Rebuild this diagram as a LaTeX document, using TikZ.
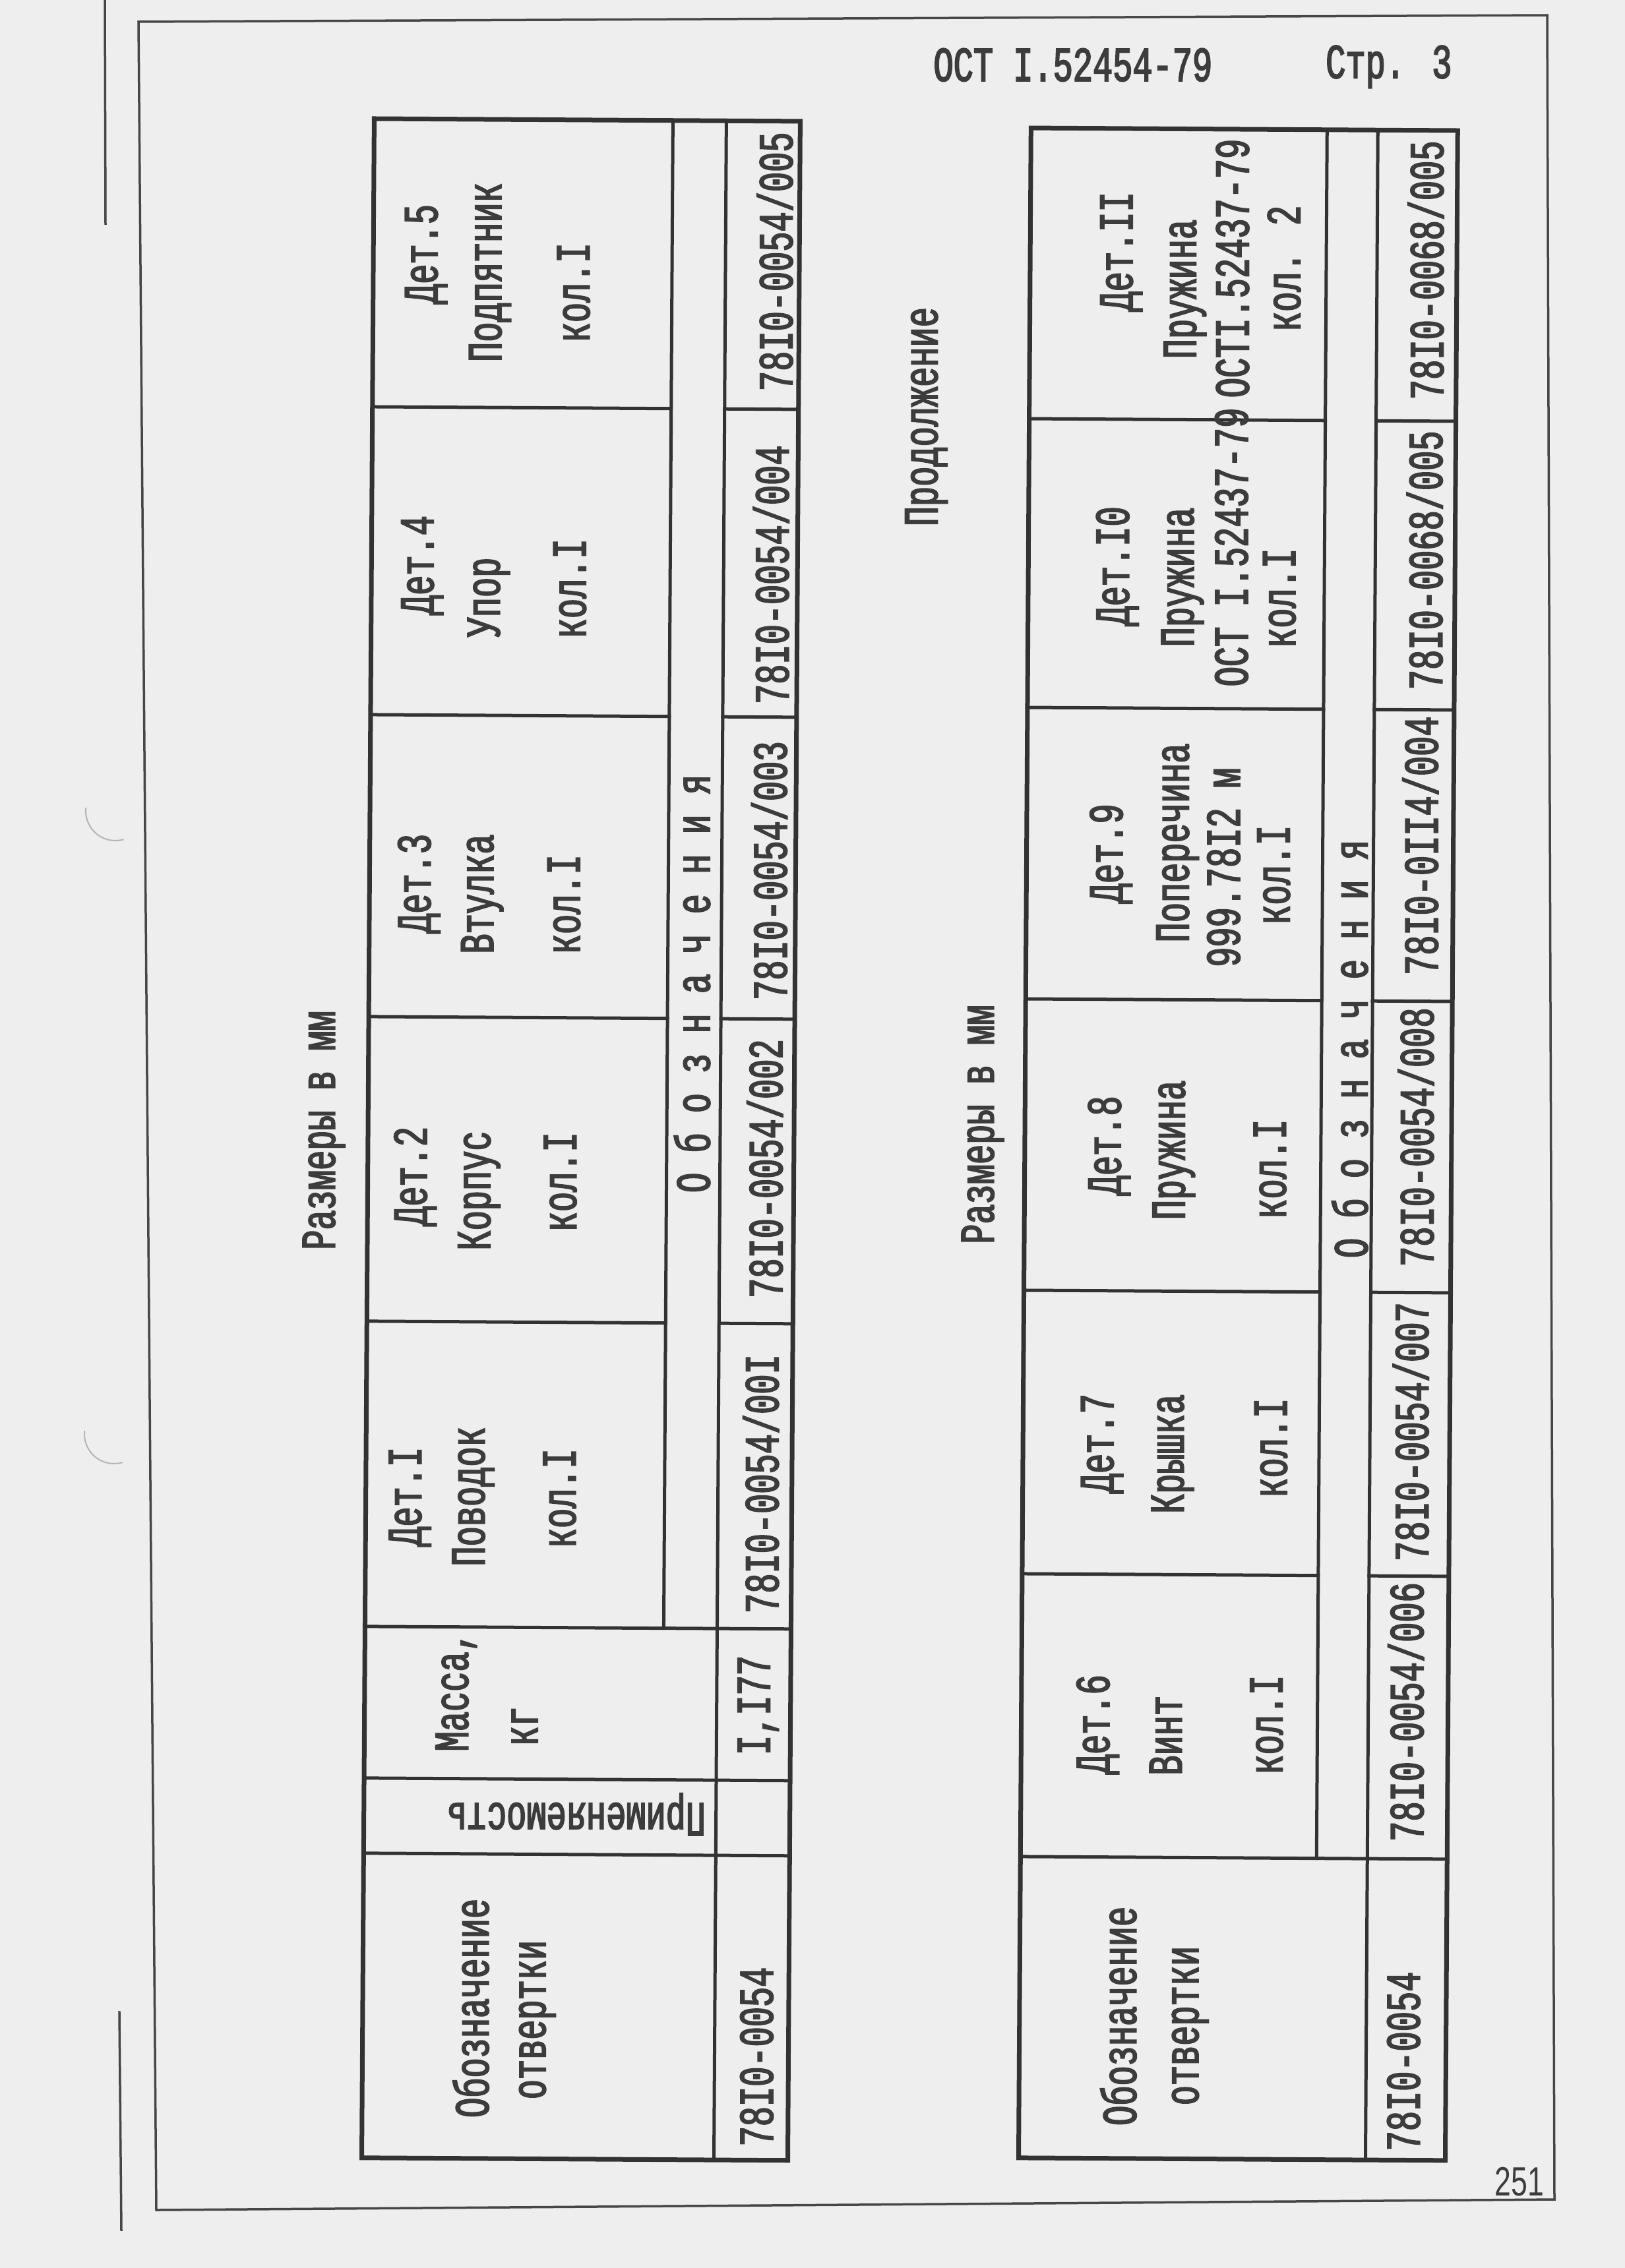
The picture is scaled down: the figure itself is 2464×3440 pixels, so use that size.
\documentclass[tikz,border=0pt]{standalone}
\usepackage{fontspec}
\newfontfamily\typewfont[FakeStretch=0.68,FakeBold=2.5]{Liberation Mono}
\newfontfamily\stampfont[FakeStretch=0.72]{Liberation Sans}

\begin{document}
\begin{tikzpicture}[x=1pt,y=-1pt,line cap=rect,
	tline/.style={line width=5.0pt, custcol_32_32_32},
	tframe/.style={line width=7.0pt, custcol_32_32_32},
	pline/.style={line width=3.5pt, custcol_46_46_46},
	punch/.style={line width=2.0pt, custcol_b4_b4_b4},
	typed/.style={inner sep=0, outer sep=0, custcol_3c_3c_3c, font=\typewfont\fontsize{74pt}{74pt}\selectfont},
	uptyped/.style={typed, rotate=90}]
					\definecolor{custcol_ee_ee_ee}{RGB}{238, 238, 238}
					\definecolor{custcol_32_32_32}{RGB}{50, 50, 50}
					\definecolor{custcol_46_46_46}{RGB}{70, 70, 70}
					\definecolor{custcol_3c_3c_3c}{RGB}{60, 60, 60}
					\definecolor{custcol_b4_b4_b4}{RGB}{180, 180, 180}
					\fill [custcol_ee_ee_ee] (0,0) rectangle (2464,3440);
					\useasboundingbox (0,0) rectangle (2464,3440);
					% page frame and binding marks
					\draw [pline] (210,33) -- (2346,23) -- (2357,3336) -- (237,3352) -- cycle;
					\draw [pline] (159,0) -- (160,339);
					\draw [pline] (181,3052) -- (184,3382);
					\draw [punch] (175,1230) ++(185:45) arc (185:75:45);
					\draw [punch] (173,2175) ++(185:45) arc (185:75:45);
					\node[font=\stampfont\fontsize{62pt}{62pt}\selectfont, custcol_3c_3c_3c, inner sep=0] (pageno) at (2304,3309) {251};
				\begin{scope}[rotate around={-0.35:(1232,1720)}]
					\node[typed] (hdr) at (1617,96) {ОСТ I.52454-79};
					\node[typed] (pg) at (2096,96) {Стр. 3};
					\node[uptyped] (sizesA) at (491,1719) {Размеры в мм};
					\node[uptyped] (contd) at (1398,631) {Продолжение};
					\node[uptyped] (sizesB) at (1490,1704) {Размеры в мм};
					% first table
					\draw [tframe] (558,184) rectangle (1204,3277);
					\draw [tline] (1011,184) -- (1011,2471);
					\draw [tline] (1092,184) -- (1092,3277);
					\foreach \y in {621,1088,1546,2008} {
						\draw [tline] (558,\y) -- (1011,\y);
						\draw [tline] (1092,\y) -- (1204,\y);
					}
					\foreach \y in {2471,2701,2815}
						\draw [tline] (558,\y) -- (1204,\y);
					\node[uptyped] (detA5) at (638,389) {Дет.5};
					\node[uptyped] (nameA5) at (735,416) {Подпятник};
					\node[uptyped] (qtyA5) at (862,446) {кол.I};
					\node[uptyped] (codeA5) at (1167,397) {78I0-0054/005};
					\node[uptyped] (detA4) at (635,861) {Дет.4};
					\node[uptyped] (nameA4) at (736,909) {Упор};
					\node[uptyped] (qtyA4) at (859,895) {кол.I};
					\node[uptyped] (codeA4) at (1164,872) {78I0-0054/004};
					\node[uptyped] (detA3) at (633,1344) {Дет.3};
					\node[uptyped] (nameA3) at (729,1359) {Втулка};
					\node[uptyped] (qtyA3) at (853,1374) {кол.I};
					\node[uptyped] (codeA3) at (1164,1321) {78I0-0054/003};
					\node[uptyped] (detA2) at (630,1788) {Дет.2};
					\node[uptyped] (nameA2) at (727,1809) {Корпус};
					\node[uptyped] (qtyA2) at (850,1795) {кол.I};
					\node[uptyped] (codeA2) at (1160,1773) {78I0-0054/002};
					\node[uptyped] (detA1) at (625,2274) {Дет.I};
					\node[uptyped] (nameA1) at (721,2273) {Поводок};
					\node[uptyped] (qtyA1) at (852,2275) {кол.I};
					\node[uptyped] (codeA1) at (1157,2251) {78I0-0054/00I};
					\node[uptyped] (stripA) at (1048,1493) {О б о з н а ч е н и я};
					\node[uptyped] (massA) at (697,2569) {Масса,};
					\node[uptyped] (kgA) at (801,2621) {кг};
					\node[uptyped] (massvalA) at (1155,2587) {I,I77};
					\node[typed, rotate=180] (useA) at (880,2754) {Применяемость};
					\node[uptyped] (desigA) at (722,3049) {Обозначение};
					\node[uptyped] (toolA) at (823,3066) {отвертки};
					\node[uptyped] (toolcodeA) at (1156,3120) {78I0-0054};
					% second table
					\draw [tframe] (1554,192) rectangle (2201,3271);
					\draw [tline] (2003,192) -- (2003,2814);
					\draw [tline] (2080,192) -- (2080,3271);
					\foreach \y in {633,1071,1513,1955,2385} {
						\draw [tline] (1554,\y) -- (2003,\y);
						\draw [tline] (2080,\y) -- (2201,\y);
					}
					\draw [tline] (1554,2814) -- (2201,2814);
					\node[uptyped] (detB11) at (1692,379) {Дет.II};
					\node[uptyped] (nameB11) at (1789,435) {Пружина};
					\node[uptyped] (stdB11) at (1861,403) {ОСТI.52437-79};
					\node[uptyped] (qtyB11) at (1939,403) {кол. 2};
					\node[uptyped] (codeB11) at (2154,404) {78I0-0068/005};
					\node[uptyped] (detB10) at (1689,856) {Дет.I0};
					\node[uptyped] (nameB10) at (1788,872) {Пружина};
					\node[uptyped] (stdB10) at (1862,826) {ОСТ I.52437-79};
					\node[uptyped] (qtyB10) at (1935,903) {кол.I};
					\node[uptyped] (codeB10) at (2155,844) {78I0-0068/005};
					\node[uptyped] (detB9) at (1682,1292) {Дет.9};
					\node[uptyped] (nameB9) at (1783,1275) {Поперечина};
					\node[uptyped] (stdB9) at (1853,1312) {999.78I2 м};
					\node[uptyped] (qtyB9) at (1929,1323) {кол.I};
					\node[uptyped] (codeB9) at (2151,1277) {78I0-0II4/004};
					\node[uptyped] (detB8) at (1682,1735) {Дет.8};
					\node[uptyped] (nameB8) at (1780,1741) {Пружина};
					\node[uptyped] (qtyB8) at (1926,1769) {кол.I};
					\node[uptyped] (codeB8) at (2147,1719) {78I0-0054/008};
					\node[uptyped] (detB7) at (1674,2187) {Дет.7};
					\node[uptyped] (nameB7) at (1781,2202) {Крышка};
					\node[uptyped] (qtyB7) at (1930,2192) {кол.I};
					\node[uptyped] (codeB7) at (2142,2166) {78I0-0054/007};
					\node[uptyped] (detB6) at (1670,2613) {Дет.6};
					\node[uptyped] (nameB6) at (1773,2629) {Винт};
					\node[uptyped] (qtyB6) at (1926,2612) {кол.I};
					\node[uptyped] (codeB6) at (2137,2591) {78I0-0054/006};
					\node[uptyped] (stripB) at (2046,1586) {О б о з н а ч е н и я};
					\node[uptyped] (desigB) at (1704,3055) {Обозначение};
					\node[uptyped] (toolB) at (1813,3069) {отвертки};
					\node[uptyped] (toolcodeB) at (2137,3121) {78I0-0054};
				\end{scope}
				\end{tikzpicture}
\end{document}
